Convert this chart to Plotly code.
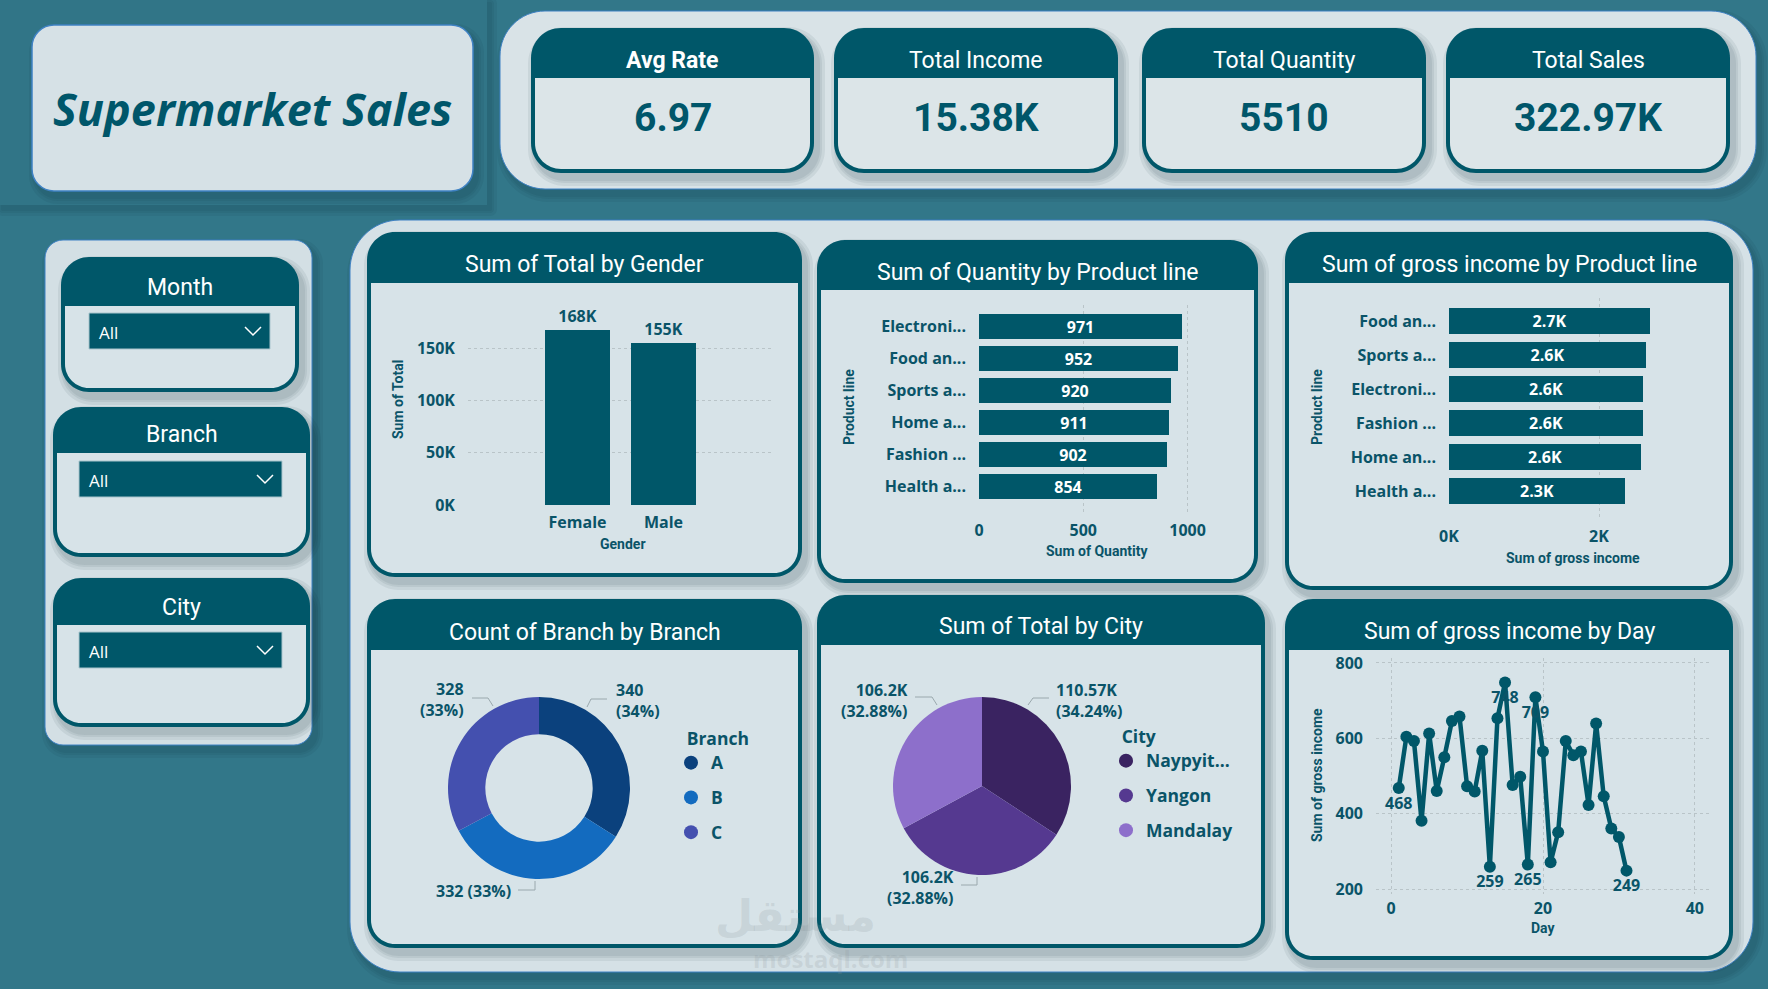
import plotly.graph_objects as go

W, H = 1768, 989

# ---------------- data ----------------
kpi_titles = ["Avg Rate", "Total Income", "Total Quantity", "Total Sales"]
kpi_values = ["6.97", "15.38K", "5510", "322.97K"]

slicer_titles = ["Month", "Branch", "City"]
slicer_values = ["All", "All", "All"]

genders = ["Female", "Male"]
gender_totals = [167882.93, 155083.82]
gender_ticks = [0, 50000, 100000, 150000]
gender_ticktext = ["0K", "50K", "100K", "150K"]

qty_lines = ["Electroni...", "Food an...", "Sports a...", "Home a...", "Fashion ...", "Health a..."]
qty_values = [971, 952, 920, 911, 902, 854]
qty_ticks = [0, 500, 1000]

gi_lines = ["Food an...", "Sports a...", "Electroni...", "Fashion ...", "Home an...", "Health a..."]
gi_values = [2673.56, 2624.90, 2587.50, 2586.00, 2564.85, 2342.56]
gi_ticks = [0, 2000]
gi_ticktext = ["0K", "2K"]

branches = ["A", "B", "C"]
branch_counts = [340, 332, 328]
branch_colors = ["#0B417D", "#136BBF", "#4450AF"]

cities = ["Naypyitaw", "Yangon", "Mandalay"]
city_legend = ["Naypyit...", "Yangon", "Mandalay"]
city_totals = [110568.71, 106200.37, 106197.67]
city_colors = ["#3A2361", "#553990", "#8D6FCB"]

days = list(range(1, 32))
day_income = [468, 604, 593, 381, 613, 460, 550, 646, 658, 473, 459, 567, 259, 653, 748,
              476, 498, 265, 709, 565, 271, 351, 593, 555, 565, 423, 639, 446, 361, 338, 249]
label_days = [1, 13, 15, 18, 19, 31]
day_xticks = [0, 20, 40]
day_yticks = [200, 400, 600, 800]

# ---------------- style ----------------
BG = "#327789"
DARK = "#005769"
TEXT = "#0A5468"
PANEL = "#D5E1E6"
BODY = "#D7E3E8"
BORDER = "#3F82C4"
GRID = "#B9C4C8"
LEADER = "#9AA8AD"
TFONT = "Roboto"
LFONT = "Open Sans"


def X(x):
    return x / W


def Y(y):
    return 1 - y / H


shapes = []
annots = []


def rr_path(x0, y0, x1, y1, rt, rb):
    c = 0.5523
    p = [f"M{X(x0 + rt)},{Y(y0)}", f"L{X(x1 - rt)},{Y(y0)}"]
    if rt > 0:
        p.append(f"C{X(x1 - rt + rt * c)},{Y(y0)} {X(x1)},{Y(y0 + rt - rt * c)} {X(x1)},{Y(y0 + rt)}")
    p.append(f"L{X(x1)},{Y(y1 - rb)}")
    if rb > 0:
        p.append(f"C{X(x1)},{Y(y1 - rb + rb * c)} {X(x1 - rb + rb * c)},{Y(y1)} {X(x1 - rb)},{Y(y1)}")
    p.append(f"L{X(x0 + rb)},{Y(y1)}")
    if rb > 0:
        p.append(f"C{X(x0 + rb - rb * c)},{Y(y1)} {X(x0)},{Y(y1 - rb + rb * c)} {X(x0)},{Y(y1 - rb)}")
    p.append(f"L{X(x0)},{Y(y0 + rt)}")
    if rt > 0:
        p.append(f"C{X(x0)},{Y(y0 + rt - rt * c)} {X(x0 + rt - rt * c)},{Y(y0)} {X(x0 + rt)},{Y(y0)}")
    p.append("Z")
    return " ".join(p)


def rrect(x0, y0, x1, y1, r, fill, line=None, lw=0, rb=None):
    if rb is None:
        rb = r
    shapes.append(dict(type="path", xref="paper", yref="paper", layer="below",
                       path=rr_path(x0, y0, x1, y1, r, rb), fillcolor=fill,
                       line=dict(color=line if line else "rgba(0,0,0,0)", width=lw)))


def shadow(x0, y0, x1, y1, r, dx=4, dy=6):
    for s in [7, 4, 2]:
        rrect(x0 + dx - s, y0 + dy - s, x1 + dx + s, y1 + dy + s, r + s, "rgba(20,40,50,0.07)")


def text(x, y, t, size, color=TEXT, family=TFONT, weight="normal", style="normal",
         angle=0, xanchor="center", align="center"):
    annots.append(dict(x=X(x), y=Y(y), xref="paper", yref="paper", text=t, showarrow=False,
                       xanchor=xanchor, yanchor="middle", textangle=angle, align=align,
                       font=dict(family=family, size=size, color=color, weight=weight, style=style)))


def polyline(pts, color=LEADER, width=1):
    path = "M" + " L".join(f"{X(a)},{Y(b)}" for a, b in pts)
    shapes.append(dict(type="path", xref="paper", yref="paper", layer="above", path=path,
                       line=dict(color=color, width=width)))


def card(x0, y0, x1, y1, hb, title, r=28, tsize=23, bold=False, body=BODY, ty=None):
    shadow(x0, y0, x1, y1, r)
    rrect(x0, y0, x1, y1, r, DARK)
    bw = 4
    rrect(x0 + bw, hb, x1 - bw, y1 - bw, 0, body, rb=r - bw)
    text((x0 + x1) / 2, ty if ty else hb - 19, title, tsize, color="white",
         weight="bold" if bold else "normal")


# ---------------- background panels ----------------
shapes.append(dict(type="rect", xref="paper", yref="paper", x0=0, y0=0, x1=1, y1=1,
                   fillcolor=BG, line=dict(width=0), layer="below"))
shadow(0, 0, 487, 205, 0, dx=3, dy=4)
rrect(0, 0, 487, 205, 0, "#317587")
shadow(32, 25, 473, 191, 22)
rrect(32, 25, 473, 191, 22, "#D6E1E6", BORDER, 1.5)
text(252, 108, "Supermarket Sales", 45, color="#00566A", family=LFONT, weight="bold", style="italic")

# KPI container
shadow(500, 11, 1756, 189, 45)
rrect(500, 11, 1756, 189, 45, "#D9E3E7", BORDER, 1)
kpi_x = [(531, 814), (834, 1118), (1142, 1426), (1446, 1730)]
for (a, b), t, v in zip(kpi_x, kpi_titles, kpi_values):
    card(a, 28, b, 173, 78, t, r=30, tsize=23, bold=(t == "Avg Rate"), body="#DCE5E8", ty=60)
    text((a + b) / 2, 118, v, 39, color="#00566A", family=TFONT, weight="bold")

# slicer panel
shadow(45, 240, 312, 745, 18)
rrect(45, 240, 312, 745, 18, "#D3DFE4", BORDER, 1)
slicer_boxes = [
    ((61, 257, 299, 392), 306, 287, (89, 313, 270, 349)),
    ((53, 407, 310, 557), 453, 434, (79, 461, 282, 497)),
    ((53, 578, 310, 727), 625, 607, (79, 632, 282, 668)),
]
for ((a, b, c, d), hb, ty, (p, q, r_, s)), t, v in zip(slicer_boxes, slicer_titles, slicer_values):
    card(a, b, c, d, hb, t, r=28, tsize=23, ty=ty)
    shapes.append(dict(type="rect", xref="paper", yref="paper", x0=X(p), x1=X(r_), y0=Y(s), y1=Y(q),
                       fillcolor=DARK, line=dict(color="#A9C5CD", width=1), layer="below"))
    text(p + 8, (q + s) / 2 + 1, v, 17, color="white", family=LFONT, xanchor="left")
    cx, cy = r_ - 17, (q + s) / 2
    shapes.append(dict(type="path", xref="paper", yref="paper", layer="above",
                       path=f"M{X(cx - 8)},{Y(cy - 4)} L{X(cx)},{Y(cy + 4)} L{X(cx + 8)},{Y(cy - 4)}",
                       line=dict(color="white", width=1.5)))

# charts container
shadow(350, 220, 1753, 972, 50)
rrect(350, 220, 1753, 972, 50, PANEL, BORDER, 1)

card(367, 232, 802, 577, 283, "Sum of Total by Gender", ty=264)
card(817, 240, 1258, 583, 290, "Sum of Quantity by Product line", ty=272)
card(1285, 232, 1733, 590, 283, "Sum of gross income by Product line", ty=264)
card(367, 599, 802, 948, 650, "Count of Branch by Branch", ty=632)
card(817, 595, 1265, 948, 645, "Sum of Total by City", ty=626)
card(1285, 599, 1733, 960, 650, "Sum of gross income by Day", ty=631)

# axis titles
AT = dict(size=14, family=TFONT, weight="bold")
text(398, 400, "Sum of Total", angle=-90, **AT)
text(623, 544, "Gender", **AT)
text(849, 407, "Product line", angle=-90, **AT)
text(1097, 551, "Sum of Quantity", **AT)
text(1317, 407, "Product line", angle=-90, **AT)
text(1573, 558, "Sum of gross income", **AT)
text(1317, 775, "Sum of gross income", angle=-90, **AT)
text(1543, 928, "Day", **AT)

# watermark (faint)
text(795, 915, "مستقل", 44, color="rgba(140,150,155,0.20)", family="DejaVu Sans", weight="bold")
text(830, 958, "mostaql.com", 24, color="rgba(140,150,155,0.20)", family=LFONT, weight="bold")

# pie / donut data labels with leader lines (label layout positions)
tot_b = sum(branch_counts)
branch_label_text = [f"{v}<br>({v / tot_b:.0%})" for v in branch_counts]
branch_label_text[1] = f"{branch_counts[1]} ({branch_counts[1] / tot_b:.0%})"
branch_label_layout = [
    (614, 700, "left", [(587, 707), (591, 699), (607, 699)]),
    (513, 891, "right", [(535, 881), (535, 890), (518, 890)]),
    (466, 699, "right", [(493, 706), (488, 698), (472, 698)]),
]
tot_c = sum(city_totals)
city_label_text = [(f"{v / 1000:.2f}".rstrip("0").rstrip(".") + "K") + f"<br>({v / tot_c * 100:.2f}%)"
                   for v in city_totals]
city_label_layout = [
    (1054, 700, "left", [(1028, 705), (1033, 698), (1049, 698)]),
    (956, 887, "right", [(977, 877), (977, 885), (961, 885)]),
    (910, 700, "right", [(937, 705), (932, 697), (915, 697)]),
]
for labels, layout_ in [(branch_label_text, branch_label_layout), (city_label_text, city_label_layout)]:
    for t, (lx, ly, anc, pts) in zip(labels, layout_):
        text(lx, ly, t, 16, family=LFONT, weight="bold", xanchor=anc, align=anc)
        polyline(pts)

# ---------------- traces ----------------
fig = go.Figure()
TICKF_CAT = dict(family=LFONT, size=16, color=TEXT, weight="bold")
INF = dict(family=LFONT, size=16, color="white", weight="bold")

fig.add_trace(go.Bar(
    x=genders, y=gender_totals, width=0.756, marker=dict(color=DARK, line=dict(width=0)),
    text=[f"{round(v / 1000)}K" for v in gender_totals], textposition="outside",
    textfont=dict(family=LFONT, size=16, color=TEXT, weight="bold"), cliponaxis=False,
    constraintext="none", xaxis="x", yaxis="y", showlegend=False))

fig.add_trace(go.Bar(
    x=qty_values, y=qty_lines, orientation="h", width=0.78, marker=dict(color=DARK, line=dict(width=0)),
    text=[str(v) for v in qty_values], textposition="inside", insidetextanchor="middle",
    textfont=INF, insidetextfont=INF, constraintext="none",
    xaxis="x2", yaxis="y2", showlegend=False))

fig.add_trace(go.Bar(
    x=gi_values, y=gi_lines, orientation="h", width=0.765, marker=dict(color=DARK, line=dict(width=0)),
    text=[f"{v / 1000:.1f}K" for v in gi_values], textposition="inside", insidetextanchor="middle",
    textfont=INF, insidetextfont=INF, constraintext="none",
    xaxis="x3", yaxis="y3", showlegend=False))

fig.add_trace(go.Scatter(
    x=days, y=day_income, mode="lines+markers+text",
    text=[str(v) if d in label_days else "" for d, v in zip(days, day_income)],
    textposition="bottom center", textfont=dict(family=LFONT, size=16, color=TEXT, weight="bold"),
    cliponaxis=False, line=dict(color=DARK, width=4.5), marker=dict(color=DARK, size=12),
    xaxis="x4", yaxis="y4", showlegend=False))

fig.add_trace(go.Pie(
    labels=branches, values=branch_counts, hole=0.59, sort=False, direction="clockwise", rotation=0,
    marker=dict(colors=branch_colors, line=dict(width=0)), textinfo="none",
    domain=dict(x=[X(448), X(630)], y=[Y(879), Y(697)]), showlegend=False))

fig.add_trace(go.Pie(
    labels=cities, values=city_totals, sort=False, direction="clockwise", rotation=0,
    marker=dict(colors=city_colors, line=dict(width=0)), textinfo="none",
    domain=dict(x=[X(893), X(1071)], y=[Y(875), Y(697)]), showlegend=False))

for b, c in zip(branches, branch_colors):
    fig.add_trace(go.Scatter(x=[None], y=[None], mode="markers", name=b, legend="legend2",
                             legendgroup="b" + b, marker=dict(color=c, size=14, symbol="circle"),
                             xaxis="x4", yaxis="y4", showlegend=True))
for n, c in zip(city_legend, city_colors):
    fig.add_trace(go.Scatter(x=[None], y=[None], mode="markers", name=n, legend="legend3",
                             legendgroup="c" + n, marker=dict(color=c, size=14, symbol="circle"),
                             xaxis="x4", yaxis="y4", showlegend=True))

LEGF = dict(family=LFONT, size=17.5, color=TEXT, weight="bold")
leg_common = dict(bgcolor="rgba(0,0,0,0)", font=LEGF, xanchor="left", yanchor="top",
                  itemwidth=30, tracegroupgap=9, itemclick=False, itemdoubleclick=False)

grid_common = dict(showgrid=True, gridcolor=GRID, griddash="dot", gridwidth=1,
                   zeroline=False, showline=False, ticks="", fixedrange=True)
nogrid = dict(showgrid=False, zeroline=False, showline=False, ticks="", fixedrange=True)

fig.update_layout(
    width=W, height=H, autosize=False,
    margin=dict(l=0, r=0, t=0, b=0, pad=0, autoexpand=False),
    paper_bgcolor=BG, plot_bgcolor="rgba(0,0,0,0)",
    shapes=shapes, annotations=annots,
    font=dict(family=LFONT, color=TEXT),
    showlegend=True,
    xaxis=dict(domain=[X(468), X(773)], range=[-1.275, 2.275], anchor="y", ticklabelstandoff=6,
               tickfont=TICKF_CAT, **nogrid),
    yaxis=dict(domain=[Y(505), Y(317)], range=[0, 180000], anchor="x", tickvals=gender_ticks,
               ticktext=gender_ticktext, ticklabelstandoff=12, tickfont=TICKF_CAT, **grid_common),
    xaxis2=dict(domain=[X(979), X(1198)], range=[0, 1050], anchor="y2", tickvals=qty_ticks,
                ticklabelstandoff=6, tickfont=TICKF_CAT, **grid_common),
    yaxis2=dict(domain=[Y(513), Y(305)], range=[5.83, -0.67], anchor="x2", type="category",
                ticklabelstandoff=12, tickfont=TICKF_CAT, **nogrid),
    xaxis3=dict(domain=[X(1449), X(1659)], range=[0, 2800], anchor="y3", tickvals=gi_ticks,
                ticktext=gi_ticktext, ticklabelstandoff=5, tickfont=TICKF_CAT, **grid_common),
    yaxis3=dict(domain=[Y(520), Y(298)], range=[5.85, -0.68], anchor="x3", type="category",
                ticklabelstandoff=12, tickfont=TICKF_CAT, **nogrid),
    xaxis4=dict(domain=[X(1376), X(1710)], range=[-2, 42], anchor="y4", tickvals=day_xticks,
                ticklabelstandoff=3, tickfont=TICKF_CAT, **grid_common),
    yaxis4=dict(domain=[Y(894), Y(658)], range=[187, 813], anchor="x4", tickvals=day_yticks,
                ticklabelstandoff=12, tickfont=TICKF_CAT, **grid_common),
    legend2=dict(x=X(671), y=Y(722), title=dict(text="&nbsp;&nbsp;&nbsp;Branch", side="top", font=LEGF),
                 **leg_common),
    legend3=dict(x=X(1106), y=Y(720), title=dict(text="&nbsp;&nbsp;&nbsp;City", side="top", font=LEGF),
                 **leg_common),
    bargap=0,
)

fig.write_html(
    "out.html",
    post_script="document.body.style.margin='0';document.body.style.overflow='hidden';"
                "document.documentElement.style.overflow='hidden';",
)
